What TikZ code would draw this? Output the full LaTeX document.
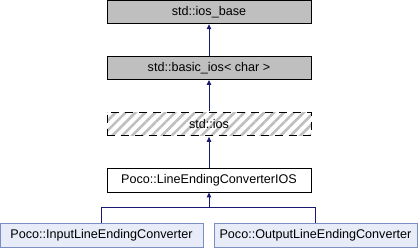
\documentclass[tikz,border=0pt]{standalone}
\usepackage{fontspec}
\setmainfont{Liberation Sans}
\usetikzlibrary{arrows.meta,patterns.meta}

\definecolor{edgeblue}{HTML}{191970}
\definecolor{leafline}{HTML}{7B8EC2}
\definecolor{leaffill}{HTML}{E8ECF8}
\definecolor{basefill}{HTML}{BFBFBF}

\tikzset{
  cls/.style={draw=black, line width=0.9pt, minimum width=204pt, minimum height=23.5pt,
    inner sep=0pt, font=\fontsize{12.6}{14}\selectfont},
  greycls/.style={cls, fill=basefill},
  hidden/.style={cls, draw=black, dash pattern=on 8pt off 6pt,
    pattern={Lines[angle=45,distance=7pt,line width=2.6pt]}, pattern color=basefill},
  leafcls/.style={cls, draw=leafline, fill=leaffill, minimum width=203pt},
  inherit/.style={draw=edgeblue, line width=1pt, {Triangle[length=5pt,width=4.5pt]}-}
}

\begin{document}
\begin{tikzpicture}[x=1pt, y=-1pt]
  \useasboundingbox (0,0) rectangle (418,248);

  % class chain
  \node[greycls] (iosbase)  at (209,12)    {std::ios\_base};
  \node[greycls] (basicios) at (209,67.8)  {std::basic\_ios< char >};
  \node[hidden]  (ios)      at (209,123.8) {std::ios};
  \node[cls]     (convios)  at (209,180.3) {Poco::LineEndingConverterIOS};

  % derived converters
  \node[leafcls] (inconv)  at (101.5,235.6) {Poco::InputLineEndingConverter};
  \node[leafcls] (outconv) at (315.5,235.6) {Poco::OutputLineEndingConverter};

  \draw[inherit] (iosbase.south)  -- (basicios.north);
  \draw[inherit] (basicios.south) -- (ios.north);
  \draw[inherit] (ios.south)      -- (convios.north);

  \coordinate (split) at (209,208);
  \draw[inherit] (convios.south) -- (split);
  \draw[draw=edgeblue, line width=1pt] (split) -| (inconv.north);
  \draw[draw=edgeblue, line width=1pt] (split) -| (outconv.north);
\end{tikzpicture}
\end{document}
